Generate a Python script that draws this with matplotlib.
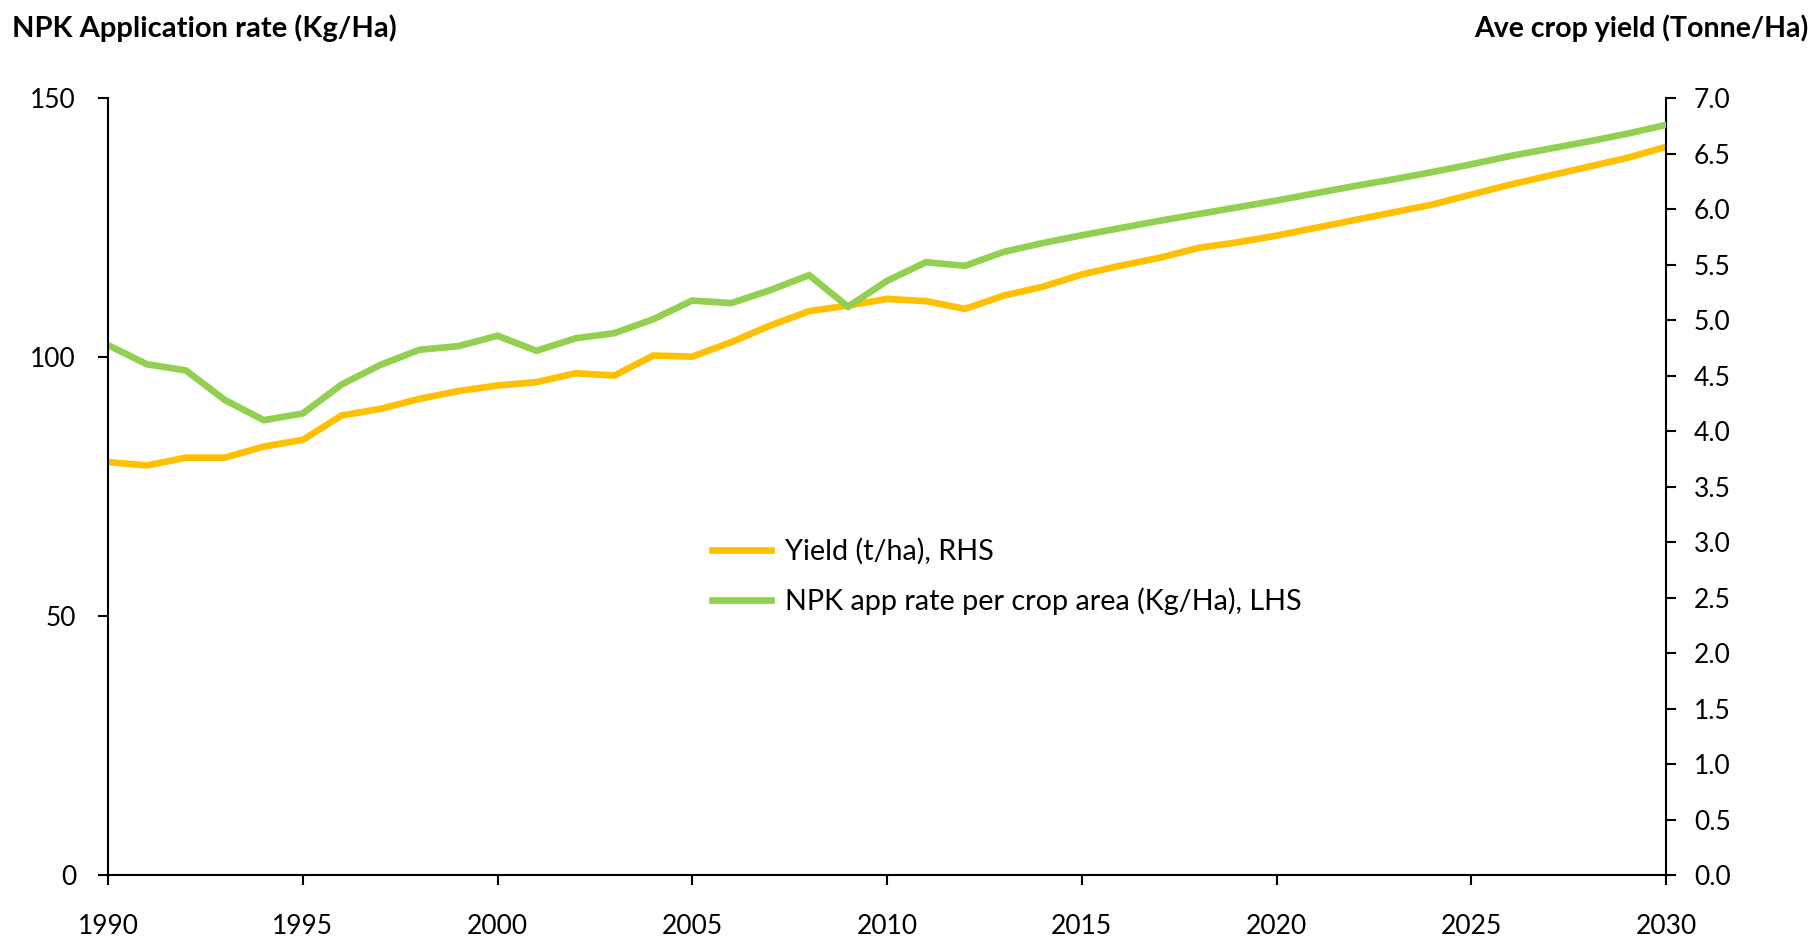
import matplotlib
matplotlib.use("Agg")
import matplotlib.pyplot as plt

plt.rcParams['font.family'] = ['Lato', 'DejaVu Sans']

years = list(range(1990, 2031))

# NPK application rate per crop area (Kg/Ha), left axis
npk_rate = [102.3, 98.6, 97.4, 91.7, 87.8, 89.1, 94.7, 98.5, 101.4, 102.1,
            104.1, 101.2, 103.6, 104.6, 107.3, 110.9, 110.4, 112.9, 115.8, 109.7,
            114.7, 118.3, 117.6, 120.3, 122.0, 123.5, 124.9, 126.3, 127.6, 128.9,
            130.2, 131.6, 133.0, 134.3, 135.7, 137.2, 138.8, 140.2, 141.6, 143.1,
            144.8]

# Average crop yield (t/ha), right axis
crop_yield = [3.72, 3.69, 3.76, 3.76, 3.86, 3.92, 4.14, 4.20, 4.29, 4.36,
              4.41, 4.44, 4.52, 4.50, 4.68, 4.67, 4.80, 4.95, 5.08, 5.13,
              5.19, 5.17, 5.10, 5.22, 5.30, 5.41, 5.49, 5.56, 5.65, 5.70,
              5.76, 5.83, 5.90, 5.97, 6.04, 6.13, 6.22, 6.30, 6.38, 6.46,
              6.56]

left_ticks = [0, 50, 100, 150]
right_ticks = [i / 2 for i in range(15)]
x_ticks = list(range(1990, 2031, 5))

W, H = 1817, 941
fig = plt.figure(figsize=(W / 100, H / 100), dpi=100)
ax = fig.add_axes([108 / W, 1 - 875 / H, (1666 - 108) / W, (875 - 98) / H])
ax2 = ax.twinx()

l_yield, = ax2.plot(years, crop_yield, color='#FFC000', lw=4.8,
                    solid_joinstyle='miter', label='Yield (t/ha), RHS')
l_npk, = ax.plot(years, npk_rate, color='#92D050', lw=4.8,
                 solid_joinstyle='miter', label='NPK app rate per crop area (Kg/Ha), LHS')
ax.set_zorder(ax2.get_zorder() + 1)
ax.patch.set_visible(False)

ax.set_xlim(1990, 2030)
ax.set_ylim(0, 150)
ax2.set_ylim(0, 7)
ax.set_xticks(x_ticks)
ax.set_yticks(left_ticks)
ax2.set_yticks(right_ticks)
ax2.set_yticklabels([f'{t:.1f}' for t in right_ticks])

for a in (ax, ax2):
    a.spines['top'].set_visible(False)
    for s in a.spines.values():
        s.set_linewidth(1.5)
ax.spines['right'].set_visible(False)
ax2.spines['left'].set_visible(False)
ax2.spines['bottom'].set_visible(False)

ax.tick_params(axis='x', length=7, width=1.5, labelsize=19, pad=21)
ax.tick_params(axis='y', length=7, width=1.5, labelsize=19, pad=16)
ax2.tick_params(axis='y', length=7, width=1.5, labelsize=19, pad=13)

fig.text(12 / W, 1 - 28 / H, 'NPK Application rate (Kg/Ha)', fontsize=21,
         fontweight='bold', ha='left', va='center')
fig.text(1808 / W, 1 - 28 / H, 'Ave crop yield (Tonne/Ha)', fontsize=20.5,
         fontweight='bold', ha='right', va='center')

fig.legend(handles=[l_yield, l_npk], loc='upper left',
           bbox_to_anchor=(686 / W, 1 - 512 / H), frameon=False,
           fontsize=20.7, handlelength=2.05, handletextpad=0.5, labelspacing=0.78)

fig.savefig('out.png', dpi=100)
